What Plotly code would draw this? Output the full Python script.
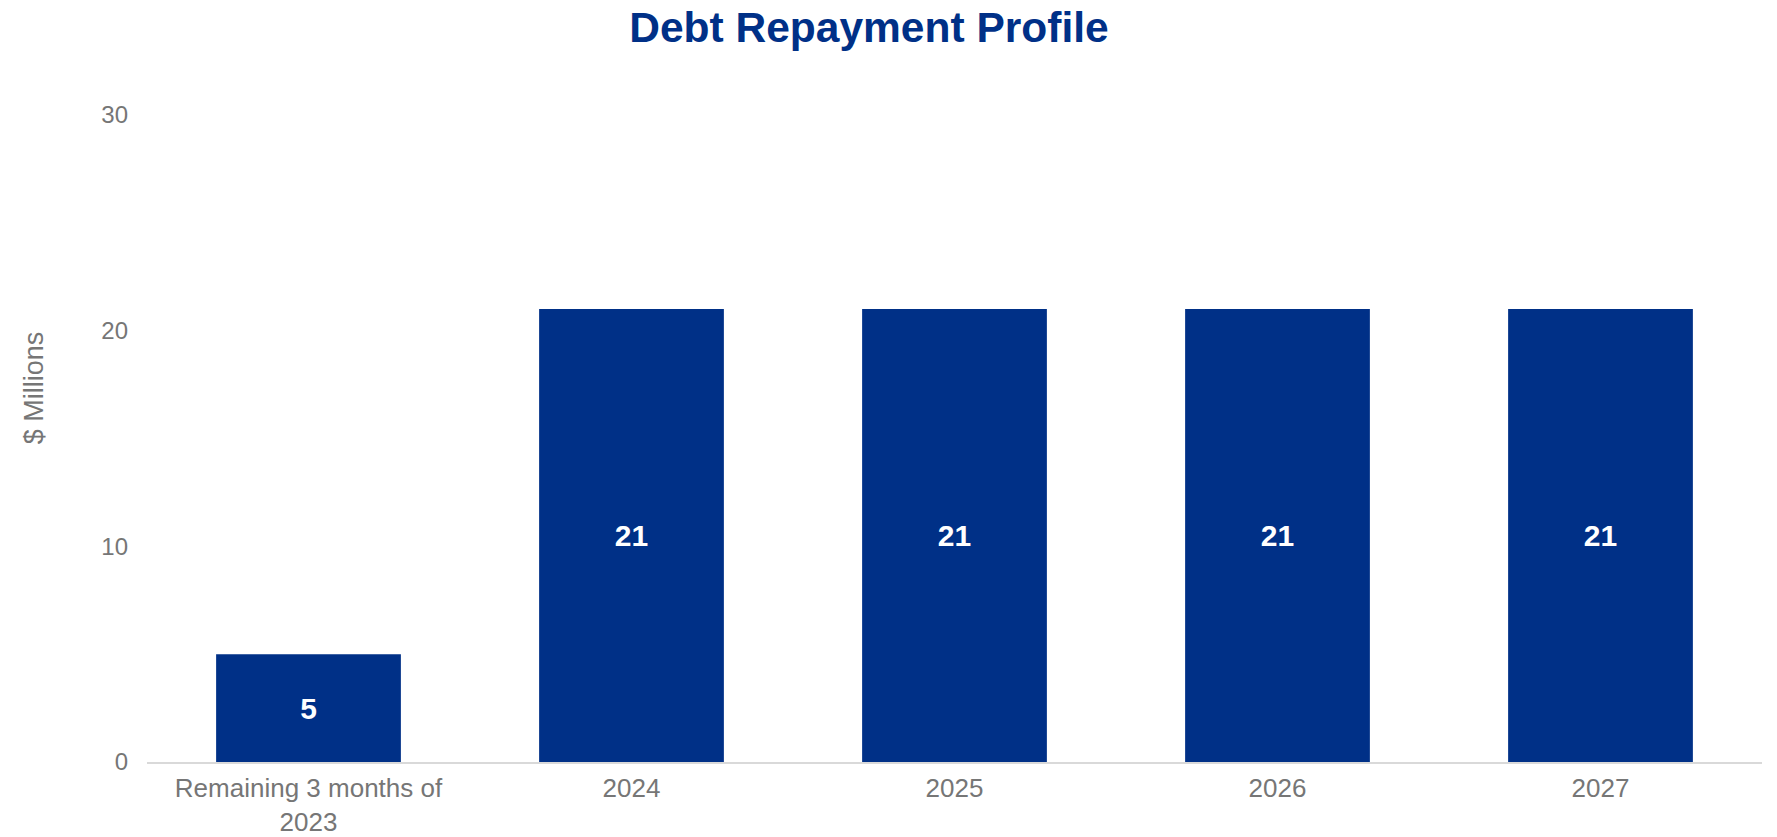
import plotly.graph_objects as go

# Debt repayment schedule ($ millions)
categories = ["Remaining 3 months of<br>2023", "2024", "2025", "2026", "2027"]
repayments = [5, 21, 21, 21, 21]
y_ticks = [0, 10, 20, 30]

NAVY = "#003087"
GRAY = "#767676"
FONT = "Liberation Sans, Arial, sans-serif"

fig = go.Figure(
    go.Bar(
        x=categories,
        y=repayments,
        marker=dict(color=NAVY, line=dict(width=0)),
        text=[str(v) for v in repayments],
        textposition="inside",
        insidetextanchor="middle",
        textangle=0,
        textfont=dict(family=FONT, size=30, color="white", weight="bold"),
        hoverinfo="x+y",
    )
)

fig.update_layout(
    width=1777,
    height=837,
    autosize=False,
    paper_bgcolor="white",
    plot_bgcolor="white",
    margin=dict(l=147, r=15, t=115, b=75),
    bargap=0.428,
    showlegend=False,
    font=dict(family=FONT, color=GRAY, size=24),
    title=dict(
        text="<b>Debt Repayment Profile</b>",
        font=dict(family=FONT, size=42.5, color=NAVY),
        x=0.489,
        xanchor="center",
        xref="container",
        y=0.968,
        yanchor="middle",
        yref="container",
    ),
    xaxis=dict(
        showgrid=False,
        showline=True,
        linecolor="#d9d9d9",
        linewidth=2,
        ticks="",
        automargin=False,
        tickfont=dict(family=FONT, size=26, color=GRAY),
        ticklabelstandoff=2,
    ),
    yaxis=dict(
        range=[0, 30],
        tickvals=y_ticks,
        showgrid=False,
        zeroline=False,
        showline=False,
        ticks="",
        automargin=False,
        tickfont=dict(family=FONT, size=24, color=GRAY),
        ticklabelstandoff=18,
    ),
    annotations=[
        dict(
            text="$ Millions",
            xref="paper",
            yref="paper",
            x=-0.07,
            y=0.579,
            xanchor="center",
            yanchor="middle",
            textangle=-90,
            showarrow=False,
            font=dict(family=FONT, size=27, color=GRAY),
        )
    ],
)

fig.write_html("out.html")
